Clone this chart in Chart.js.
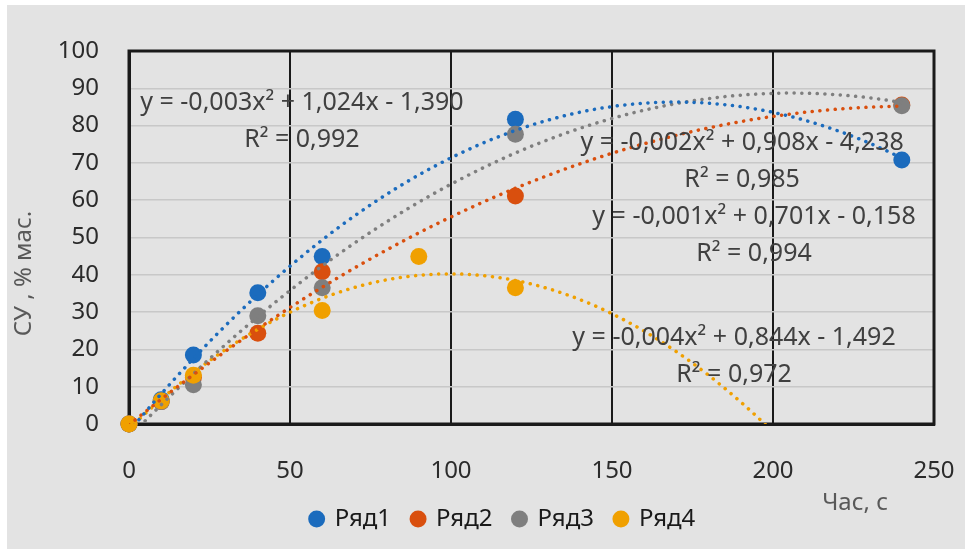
<!DOCTYPE html>
<html>
<head>
<meta charset="utf-8">
<script src="https://cdn.jsdelivr.net/npm/chart.js@4.4.1/dist/chart.umd.min.js"></script>
<style>
  html, body { margin: 0; padding: 0; background: #fff; }
</style>
</head>
<body>
<canvas id="chart" width="965" height="551"></canvas>
<script>
// значения
const seriesNames = ['Ряд1', 'Ряд2', 'Ряд3', 'Ряд4'];
const seriesColors = ['#1b6bbd', '#d94f0e', '#7f7f7f', '#f0a000'];

const time1 = [0, 10, 20, 40, 60, 120, 240];
const su1 = [0, 6.5, 18.5, 35.2, 44.9, 81.7, 70.8];
const time2 = [0, 10, 20, 40, 60, 120, 240];
const su2 = [0, 6, 12.5, 24.3, 40.8, 61.1, 85.5];
const time3 = [0, 10, 20, 40, 60, 120, 240];
const su3 = [0, 6, 10.5, 29, 36.5, 77.7, 85.3];
const time4 = [0, 10, 20, 60, 90, 120];
const su4 = [0, 6.2, 13.1, 30.4, 44.9, 36.5];

const xTicks = [0, 50, 100, 150, 200, 250];
const yTicks = [0, 10, 20, 30, 40, 50, 60, 70, 80, 90, 100];

// подписи линий тренда (как в Excel)
const trendLabels = [
  ['y = -0,003x² + 1,024x - 1,390', 'R² = 0,992'],
  ['y = -0,001x² + 0,701x - 0,158', 'R² = 0,994'],
  ['y = -0,002x² + 0,908x - 4,238', 'R² = 0,985'],
  ['y = -0,004x² + 0,844x - 1,492', 'R² = 0,972']
];
// центр первой строки подписи, в единицах осей
const labelAnchors = [[53.7, 86.1], [194.1, 55.5], [190.4, 75.3], [187.9, 23.1]];

const FONT = '"Noto Sans", "Open Sans", sans-serif';
const plotBox = { left: 129, top: 51, right: 934, bottom: 424 };
const legendShift = 36; // легенда в Excel смещена вправо
let xAxisHeight = 63;

// квадратичная аппроксимация методом наименьших квадратов
function quadFit(xs, ys) {
  const s = [0, 0, 0, 0, 0], t = [0, 0, 0];
  for (let i = 0; i < xs.length; i++) {
    for (let k = 0; k <= 4; k++) s[k] += Math.pow(xs[i], k);
    for (let k = 0; k <= 2; k++) t[k] += ys[i] * Math.pow(xs[i], k);
  }
  const m = [[s[4], s[3], s[2], t[2]], [s[3], s[2], s[1], t[1]], [s[2], s[1], s[0], t[0]]];
  for (let i = 0; i < 3; i++) {
    for (let j = i + 1; j < 3; j++) {
      const f = m[j][i] / m[i][i];
      for (let k = i; k < 4; k++) m[j][k] -= f * m[i][k];
    }
  }
  const r = [0, 0, 0];
  for (let i = 2; i >= 0; i--) {
    let v = m[i][3];
    for (let k = i + 1; k < 3; k++) v -= m[i][k] * r[k];
    r[i] = v / m[i][i];
  }
  return r; // a, b, c
}

const times = [time1, time2, time3, time4];
const values = [su1, su2, su3, su4];
const drawOrder = [4, 3, 2, 1]; // Ряд4 поверх остальных

const pointSets = seriesNames.map((name, i) => ({
  label: name,
  data: times[i].map((x, j) => ({ x: x, y: values[i][j] })),
  backgroundColor: seriesColors[i],
  borderWidth: 0,
  pointRadius: 8.5,
  pointHoverRadius: 8.5,
  pointStyle: 'circle',
  showLine: false,
  clip: false,
  order: drawOrder[i]
}));

const trendSets = seriesNames.map((name, i) => {
  const [a, b, c] = quadFit(times[i], values[i]);
  const pts = [];
  for (let x = 0; x <= 240; x += 2) pts.push({ x: x, y: a * x * x + b * x + c });
  return {
    label: name + ' trend',
    data: pts,
    showLine: true,
    pointRadius: 0,
    pointHoverRadius: 0,
    borderColor: seriesColors[i],
    borderWidth: 3.5,
    borderDash: [0.1, 7.6],
    borderCapStyle: 'round',
    fill: false,
    order: 0
  };
});

const backgroundPlugin = {
  id: 'bg',
  beforeDraw(chart) {
    const ctx = chart.ctx;
    ctx.save();
    ctx.fillStyle = '#ffffff';
    ctx.fillRect(0, 0, chart.width, chart.height);
    ctx.fillStyle = '#e3e3e3';
    ctx.fillRect(7, 5, chart.width - 7, chart.height - 7);
    ctx.restore();
  },
  afterLayout(chart) {
    if (chart.legend) {
      chart.legend.left += legendShift;
      chart.legend.right += legendShift;
    }
  },
  beforeDatasetsDraw(chart) {
    const { ctx, chartArea } = chart;
    ctx.save();
    ctx.strokeStyle = '#1a1a1a';
    ctx.lineWidth = 3;
    ctx.strokeRect(chartArea.left, chartArea.top, chartArea.right - chartArea.left, chartArea.bottom - chartArea.top);
    ctx.restore();
  }
};

const textPlugin = {
  id: 'texts',
  afterDatasetsDraw(chart) {
    const { ctx, scales, chartArea } = chart;
    ctx.save();
    ctx.fillStyle = '#404040';
    ctx.font = '25px ' + FONT;
    ctx.textAlign = 'center';
    ctx.textBaseline = 'middle';
    trendLabels.forEach((lines, i) => {
      const px = scales.x.getPixelForValue(labelAnchors[i][0]);
      const py = scales.y.getPixelForValue(labelAnchors[i][1]);
      lines.forEach((t, k) => ctx.fillText(t, px, py + k * 37));
    });

    // подписи осей
    ctx.fillStyle = '#595959';
    ctx.font = '24px ' + FONT;
    ctx.fillText('Час, с', scales.x.getPixelForValue(225.5), chartArea.bottom + 79);
    ctx.translate(24, (chartArea.top + chartArea.bottom) / 2 + 36);
    ctx.rotate(-Math.PI / 2);
    ctx.fillText('СУ , % мас.', 0, 0);
    ctx.restore();
  }
};

const chart = new Chart(document.getElementById('chart'), {
  type: 'scatter',
  data: { datasets: pointSets.concat(trendSets) },
  options: {
    responsive: false,
    animation: false,
    devicePixelRatio: 1,
    layout: { padding: { left: 0, top: plotBox.top, right: 965 - plotBox.right, bottom: 10 } },
    plugins: {
      tooltip: { enabled: false },
      legend: {
        position: 'bottom',
        labels: {
          filter: item => item.datasetIndex < seriesNames.length,
          sort: (a, b) => a.datasetIndex - b.datasetIndex,
          usePointStyle: true,
          pointStyle: 'circle',
          boxWidth: 12,
          boxHeight: 12,
          padding: 21,
          color: '#1a1a1a',
          font: { size: 24, family: FONT }
        }
      }
    },
    scales: {
      x: {
        type: 'linear',
        min: xTicks[0],
        max: xTicks[xTicks.length - 1],
        afterBuildTicks: s => { s.ticks = xTicks.map(v => ({ value: v })); },
        afterFit: s => { s.height = xAxisHeight; s.paddingLeft = 0; s.paddingRight = 0; },
        ticks: { color: '#2b2b2b', padding: 33, font: { size: 24, family: FONT } },
        grid: { color: '#1a1a1a', lineWidth: 2, drawTicks: false },
        border: { color: '#1a1a1a', width: 3 }
      },
      y: {
        min: yTicks[0],
        max: yTicks[yTicks.length - 1],
        afterBuildTicks: s => { s.ticks = yTicks.map(v => ({ value: v })); },
        afterFit: s => { s.width = plotBox.left; s.paddingTop = 0; s.paddingBottom = 0; },
        ticks: { color: '#2b2b2b', padding: 30, font: { size: 24, family: FONT } },
        grid: { color: '#c8c8c8', lineWidth: 1.5, drawTicks: false },
        border: { color: '#1a1a1a', width: 3 }
      }
    }
  },
  plugins: [backgroundPlugin, textPlugin]
});

// подгонка области построения под исходный рисунок
for (let k = 0; k < 3; k++) {
  const a = chart.chartArea;
  const pad = chart.options.layout.padding;
  pad.top += plotBox.top - a.top;
  pad.right += a.right - plotBox.right;
  xAxisHeight += a.bottom - plotBox.bottom;
  chart.update();
}
</script>
</body>
</html>
